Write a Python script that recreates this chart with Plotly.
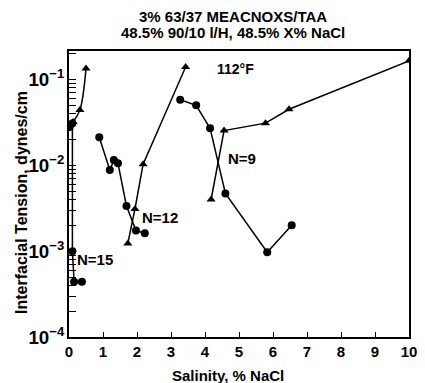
import plotly.graph_objects as go

# N=15 series
n15_circ_x = [0.02, 0.1, 0.1, 0.15, 0.38]
n15_circ_y = [0.028, 0.031, 0.001, 0.00044, 0.00044]
n15_tri_x = [0.12, 0.32, 0.5]
n15_tri_y = [0.032, 0.044, 0.134]

# N=12 series
n12_circ_x = [0.89, 1.2, 1.32, 1.44, 1.69, 1.97, 2.23]
n12_circ_y = [0.0212, 0.0088, 0.0115, 0.0106, 0.00336, 0.00174, 0.00162]
n12_tri_x = [1.73, 1.94, 2.18, 3.43]
n12_tri_y = [0.00123, 0.0031, 0.0103, 0.14]

# N=9 series
n9_circ_x = [3.27, 3.74, 4.15, 4.6, 5.83, 6.55]
n9_circ_y = [0.058, 0.050, 0.027, 0.0047, 0.00097, 0.0020]
n9_tri_x = [4.18, 4.56, 5.78, 6.47, 10.0]
n9_tri_y = [0.004, 0.0254, 0.031, 0.045, 0.165]

labels = ["N=15", "N=12", "N=9"]
label_x = [0.17, 2.1, 4.63]
label_log_y = [-3.1, -2.61, -1.917]

title_lines = ["3% 63/37 MEACNOXS/TAA", "48.5% 90/10 l/H, 48.5% X% NaCl"]

FONT = "Liberation Sans"
fig = go.Figure()

def add(x, y, sym, shape="linear"):
    fig.add_trace(go.Scatter(
        x=x, y=y, mode="lines+markers",
        line=dict(color="black", width=1.5, shape=shape),
        marker=dict(symbol=sym, size=8, color="black"),
        showlegend=False))

add(n15_circ_x, n15_circ_y, "circle")
add(n15_tri_x, n15_tri_y, "triangle-up", "spline")
add(n12_circ_x, n12_circ_y, "circle")
add(n12_tri_x, n12_tri_y, "triangle-up")
add(n9_circ_x, n9_circ_y, "circle")
add(n9_tri_x, n9_tri_y, "triangle-up")

bold = dict(family=FONT, color="black", weight="bold")

for t, x, y in zip(labels, label_x, label_log_y):
    fig.add_annotation(x=x, y=y, text=t, showarrow=False,
                       xanchor="left", yanchor="middle",
                       font=dict(bold, size=15))
fig.add_annotation(x=4.9, y=-0.878, text="112°F", showarrow=False,
                   xanchor="center", yanchor="middle",
                   font=dict(bold, size=14))

# titles
for line, py in zip(title_lines, [1.122, 1.066]):
    fig.add_annotation(xref="paper", yref="paper", x=0.483, y=py, text=line,
                       showarrow=False, xanchor="center", yanchor="middle",
                       font=dict(bold, size=15))
fig.add_annotation(xref="paper", yref="paper", x=0.468, y=-0.133,
                   text="Salinity, % NaCl", showarrow=False,
                   xanchor="center", yanchor="middle", font=dict(bold, size=15))
fig.add_annotation(xref="paper", yref="paper", x=-0.138, y=0.469,
                   text="Interfacial Tension, dynes/cm", showarrow=False,
                   textangle=-90, xanchor="center", yanchor="middle",
                   font=dict(bold, size=16))

fig.update_layout(
    width=425, height=383,
    margin=dict(l=69, r=8, t=51, b=46),
    paper_bgcolor="white", plot_bgcolor="white",
    font=dict(family=FONT, color="black"),
)
fig.update_xaxes(
    range=[0, 10], tickmode="linear", tick0=0, dtick=1,
    ticks="inside", ticklen=5, tickcolor="black", tickwidth=1,
    showline=True, linecolor="black", linewidth=1.5, mirror=True,
    showgrid=False, zeroline=False,
    tickfont=dict(bold, size=15),
)
fig.update_yaxes(
    type="log", range=[-4, -0.668], dtick=1, exponentformat="power",
    ticks="inside", ticklen=7, tickcolor="black",
    minor=dict(ticks="inside", ticklen=7, dtick="D1", tickcolor="black", showgrid=False),
    showline=True, linecolor="black", linewidth=1.5, mirror=True,
    showgrid=False, zeroline=False,
    tickfont=dict(bold, size=15),
)
fig.write_html("out.html")
